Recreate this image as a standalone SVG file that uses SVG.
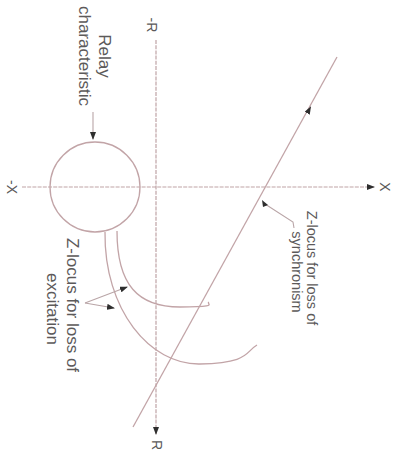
<svg xmlns="http://www.w3.org/2000/svg" width="397" height="457" viewBox="0 0 397 457">
<defs>
<style>
.ln{fill:none;stroke:#c2a4a7;stroke-width:1.3}
.ax{fill:none;stroke:#bfa3a6;stroke-width:1.2;stroke-dasharray:4 1.2}
.ld{fill:none;stroke:#b9a5a7;stroke-width:1.1}
.t{font-family:"Liberation Sans",Arial,sans-serif;fill:#5c5a5a}
</style>
<marker id="ah" markerUnits="userSpaceOnUse" markerWidth="8" markerHeight="6" refX="7" refY="3" orient="auto">
<path d="M0,0 L8,3 L0,6 z" fill="#2e2e2e"/>
</marker>
</defs>
<rect width="397" height="457" fill="#ffffff"/>
<g id="axis-x">
<line class="ax" x1="22" y1="187" x2="374" y2="187" marker-end="url(#ah)"/>
<text class="t" font-size="14" text-anchor="middle" transform="translate(380,187) rotate(90)">X</text>
<text class="t" font-size="14" text-anchor="middle" transform="translate(7,187) rotate(90)">-X</text>
</g>
<g id="axis-r">
<line class="ax" x1="156" y1="40" x2="156" y2="434" marker-end="url(#ah)"/>
<text class="t" font-size="14" text-anchor="middle" transform="translate(147,25) rotate(90)">-R</text>
<text class="t" font-size="14" text-anchor="middle" transform="translate(152,445) rotate(90)">R</text>
</g>
<g id="relay-characteristic">
<circle class="ln" cx="95" cy="187" r="45"/>
<text class="t" font-size="17" text-anchor="middle" transform="translate(99,56) rotate(90)">Relay</text>
<text class="t" font-size="17" text-anchor="middle" transform="translate(79,56) rotate(90)">characteristic</text>
</g>
<g id="sync-locus">
<line class="ln" x1="133" y1="427" x2="337" y2="57"/>
<text class="t" font-size="14.5" text-anchor="middle" transform="translate(307,268) rotate(90)">Z-locus for loss of</text>
<text class="t" font-size="14.5" text-anchor="middle" transform="translate(292,272) rotate(90)">synchronism</text>
</g>
<g id="excitation-loci">
<path class="ln" d="M117,231 C117,285 138,307 180,307 S205,304 209,302"/>
<path class="ln" d="M105,232 C104,310 150,365 200,364 S245,352 257,345"/>
<text class="t" font-size="17" text-anchor="middle" transform="translate(67,305) rotate(90)">Z-locus for loss of</text>
<text class="t" font-size="17" text-anchor="middle" transform="translate(47,309) rotate(90)">excitation</text>
</g>
<g id="connectors">
<line class="ld" x1="93" y1="112" x2="93" y2="139" marker-end="url(#ah)"/>
<path class="ld" d="M307.6,112.4 L310.5,107.1" marker-end="url(#ah)"/>
<polyline class="ld" points="294,228 293,222 265,204"/>
<path d="M262,200 L268,205 L263,207 z" fill="#2e2e2e"/>
<line class="ld" x1="85" y1="303" x2="127" y2="287" marker-end="url(#ah)"/>
<line class="ld" x1="85" y1="303" x2="114" y2="308" marker-end="url(#ah)"/>
</g>
</svg>
